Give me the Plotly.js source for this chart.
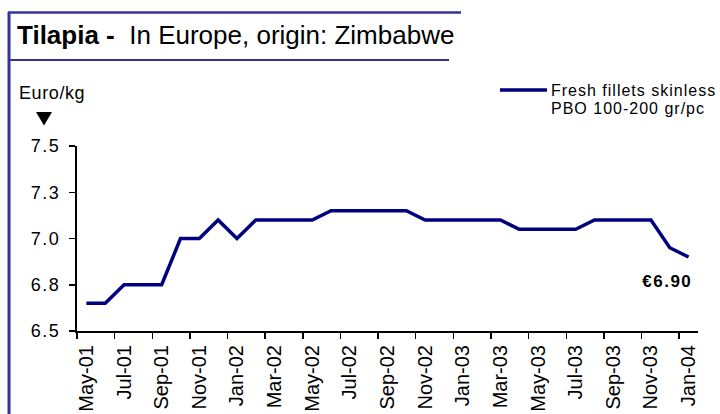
<!DOCTYPE html>
<html>
<head>
<meta charset="utf-8">
<script src="https://cdn.plot.ly/plotly-3.0.1.min.js"></script>
<style>
  body { margin: 0; padding: 0; background: #fff; }
  #chart { width: 720px; height: 414px; }
  /* the source chart is drawn with wider type than Arial */
  #chart .ytick text { letter-spacing: 1.5px; }
  #chart .annotation[data-index="0"] text { letter-spacing: 0.6px; }
  #chart .annotation[data-index="1"] text,
  #chart .annotation[data-index="2"] text { letter-spacing: 1px; }
  #chart .annotation[data-index="3"] text { letter-spacing: 1.5px; }
</style>
</head>
<body>
<div id="chart"></div>
<script>
// monthly price, euro per kg
months = ['May-01','Jun-01','Jul-01','Aug-01','Sep-01','Oct-01','Nov-01','Dec-01',
          'Jan-02','Feb-02','Mar-02','Apr-02','May-02','Jun-02','Jul-02','Aug-02',
          'Sep-02','Oct-02','Nov-02','Dec-02','Jan-03','Feb-03','Mar-03','Apr-03',
          'May-03','Jun-03','Jul-03','Aug-03','Sep-03','Oct-03','Nov-03','Dec-03','Jan-04']
prices = [6.65,6.65,6.75,6.75,6.75,7.00,7.00,7.10,
          7.00,7.10,7.10,7.10,7.10,7.15,7.15,7.15,
          7.15,7.15,7.10,7.10,7.10,7.10,7.10,7.05,
          7.05,7.05,7.05,7.10,7.10,7.10,7.10,6.95,6.90]
yTickVals = [6.5, 6.75, 7.0, 7.25, 7.5]
yTickText = ['6.5', '6.8', '7.0', '7.3', '7.5']
seriesName = ['Fresh fillets skinless', 'PBO 100-200 gr/pc']

FONT = 'Liberation Sans, Arial, sans-serif'
NAVY = '#000080'
FRAME = '#333399'

// plot box in pixels, used to place the decorations outside it
L = 77; R = 698; T = 146; B = 331
function px(x){ return (x - L) / (R - L) }
function py(y){ return (B - y) / (B - T) }

var data = [{
    x: months,
    y: prices,
    mode: 'lines',
    name: seriesName.join(' '),
    line: {color: NAVY, width: 3.5},
    hoverinfo: 'x+y'
}];

var last = prices.length - 1

var layout = {
    width: 720,
    height: 414,
    margin: {l: L, r: 720 - R, t: T, b: 414 - B},
    paper_bgcolor: '#fff',
    plot_bgcolor: '#fff',
    showlegend: false,
    font: {family: FONT, color: '#000'},
    title: {
        text: '<b>Tilapia -</b>\u00a0\u00a0In Europe, origin: Zimbabwe',
        font: {family: FONT, size: 26, color: '#000'},
        xref: 'container', x: 17 / 720, xanchor: 'left',
        yref: 'container', y: 1 - 35 / 414, yanchor: 'middle'
    },
    xaxis: {
        type: 'category',
        range: [-0.5, months.length - 0.5],
        tickmode: 'linear', tick0: 0, dtick: 2,
        tickson: 'boundaries',
        ticks: 'outside', ticklen: 6, tickwidth: 1.5, tickcolor: '#000',
        tickangle: -90,
        tickfont: {family: FONT, size: 20, color: '#000'},
        ticklabelstandoff: 4,
        showline: true, linecolor: '#000', linewidth: 2,
        showgrid: false, zeroline: false, automargin: false, fixedrange: true
    },
    yaxis: {
        range: [6.5, 7.5],
        tickmode: 'array', tickvals: yTickVals, ticktext: yTickText,
        ticks: 'outside', ticklen: 6, tickwidth: 1.5, tickcolor: '#000',
        tickfont: {family: FONT, size: 18, color: '#000'},
        ticklabelstandoff: 5,
        showline: true, linecolor: '#000', linewidth: 2,
        showgrid: false, zeroline: false, automargin: false, fixedrange: true
    },
    shapes: [
        // frame: left edge, top edge, title underline
        {type: 'line', xref: 'paper', yref: 'paper', x0: px(9), x1: px(9), y0: py(12), y1: py(420),
         line: {color: FRAME, width: 3}},
        {type: 'line', xref: 'paper', yref: 'paper', x0: px(8), x1: px(461), y0: py(12.5), y1: py(12.5),
         line: {color: FRAME, width: 2.5}},
        {type: 'line', xref: 'paper', yref: 'paper', x0: px(8), x1: px(449), y0: py(60), y1: py(60),
         line: {color: FRAME, width: 2}},
        // legend sample
        {type: 'line', xref: 'paper', yref: 'paper', x0: px(500), x1: px(547), y0: py(90), y1: py(90),
         line: {color: NAVY, width: 3.5}},
        // arrow under the unit
        {type: 'path', xref: 'paper', yref: 'paper',
         path: 'M' + px(36) + ',' + py(112) + ' L' + px(52) + ',' + py(112) + ' L' + px(44) + ',' + py(125.5) + ' Z',
         fillcolor: '#000', line: {width: 0}}
    ],
    annotations: [
        {text: 'Euro/kg', xref: 'paper', yref: 'paper', x: px(17), y: py(93),
         xanchor: 'left', yanchor: 'middle', align: 'left', showarrow: false,
         font: {family: FONT, size: 18, color: '#000'}},
        {text: seriesName[0], xref: 'paper', yref: 'paper', x: px(549), y: py(90),
         xanchor: 'left', yanchor: 'middle', align: 'left', showarrow: false,
         font: {family: FONT, size: 16, color: '#000'}},
        {text: seriesName[1], xref: 'paper', yref: 'paper', x: px(549), y: py(108),
         xanchor: 'left', yanchor: 'middle', align: 'left', showarrow: false,
         font: {family: FONT, size: 16, color: '#000'}},
        {text: '<b>\u20ac' + prices[last].toFixed(2) + '</b>', x: months[last], y: prices[last],
         xanchor: 'right', yanchor: 'middle', xshift: 2, yshift: -24, showarrow: false,
         font: {family: FONT, size: 17, color: '#000'}}
    ]
};

Plotly.newPlot('chart', data, layout, {displayModeBar: false, staticPlot: true});
</script>
</body>
</html>
